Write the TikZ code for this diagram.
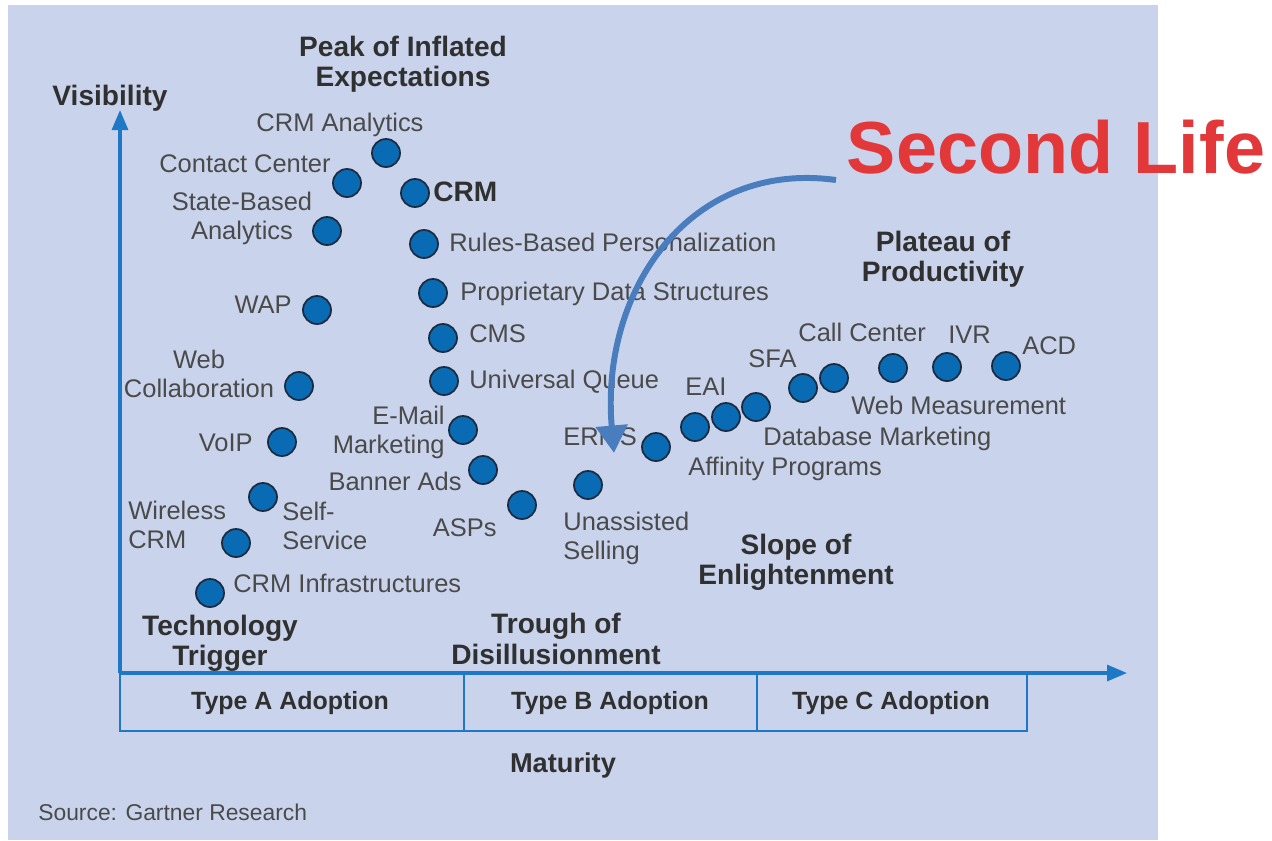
\documentclass[tikz,border=0pt]{standalone}
\usepackage{fontspec}
\setmainfont{Liberation Sans}
\usetikzlibrary{arrows.meta,positioning}
\definecolor{bgblue}{HTML}{C9D4EC}
\definecolor{axisblue}{HTML}{1F78C6}
\definecolor{dotblue}{HTML}{0A6BB5}
\definecolor{dotedge}{HTML}{1B2B3F}
\definecolor{lblgray}{HTML}{4A4A4A}
\definecolor{headgray}{HTML}{303030}
\definecolor{arcblue}{HTML}{4A7DBE}
\definecolor{slred}{HTML}{E2383A}
\tikzset{
  dot/.style={circle, fill=dotblue, draw=dotedge, line width=1pt, minimum size=0.56cm, inner sep=0pt},
  lbl/.style={font=\fontsize{14.5}{16.4}\selectfont, text=lblgray, inner sep=0pt, text height=10.5pt, text depth=0pt},
  phase/.style={font=\fontsize{16}{17.3}\selectfont\bfseries, text=headgray, inner sep=0pt, align=center},
  axis/.style={draw=axisblue, line width=1.8pt},
}
\begin{document}
\begin{tikzpicture}[x=0.02cm, y=-0.02cm]
    \useasboundingbox (0,0) rectangle (1272,840);
    \fill[white] (0,0) rectangle (1272,840);
    \fill[bgblue] (8,5) rectangle (1158,840); %panel

    % axes and adoption bands
    \coordinate (origin) at (120,673);
    \coordinate (yTip) at (120,110);
    \coordinate (xTip) at (1127,673);
    \draw[axis, -{Triangle[width=0.32cm,length=0.4cm]}] (origin) -- (yTip);
    \draw[axis, -{Triangle[width=0.32cm,length=0.4cm]}] (origin) -- (xTip);
    \draw[axis, line width=1.4pt] (origin) -- (120,731) -| (1027,673);
    \foreach \x in {464,757} {
        \draw[axis, line width=1.4pt] (\x,673) -- (\x,731);
    }
    \node[phase, font=\fontsize{14.2}{16}\selectfont\bfseries] (typeA) at (290,703) {Type A Adoption};
    \node[phase, font=\fontsize{14.2}{16}\selectfont\bfseries] (typeB) at (610,703) {Type B Adoption};
    \node[phase, font=\fontsize{14.2}{16}\selectfont\bfseries] (typeC) at (891,703) {Type C Adoption};
    \node[phase] (visibility) at (110,98) {Visibility};
    \node[phase, font=\fontsize{15.5}{17}\selectfont\bfseries] (maturity) at (563,765) {Maturity};

    % phases
    \node[phase] (peak) at (403,64) {Peak of Inflated\\Expectations};
    \node[phase] (plateau) at (943,259) {Plateau of\\Productivity};
    \node[phase] (slope) at (796,562) {Slope of\\Enlightenment};
    \node[phase] (trigger) at (220,643) {Technology\\Trigger};
    \node[phase] (trough) at (556,639) {Trough of\\Disillusionment};

    % technologies on the curve
    \foreach \n/\x/\y in {crmAnalytics/386/153, contactCenter/347/183, crm/415/193,
        stateBased/327/231, rulesBased/424/244, proprietary/433/293, wap/317/310,
        cms/443/338, universalQueue/444/381, webCollab/299/386, email/463/430,
        voip/282/442, bannerAds/483/470, selfService/263/497, asps/522/505,
        wireless/236/543, crmInfra/210/593, unassisted/588/485, erms/656/447,
        affinity/695/427, eai/726/417, database/756/407, sfa/803/388,
        webMeasure/834/378, callCenter/893/368, ivr/947/367, acd/1006/366} {
        \node[dot] (\n) at (\x,\y) {};
    }

    \node[lbl] (crmAnalyticsL) at (340,122) {CRM Analytics};
    \node[lbl, anchor=east] (contactCenterL) at (331,163) {Contact Center};
    \node[phase, anchor=west] (crmL) at (433,192) {CRM};
    \node[lbl, align=center] (stateBasedL) at (242,230) {State-Based\\Analytics};
    \node[lbl, anchor=west] (rulesBasedL) at (449,242) {Rules-Based Personalization};
    \node[lbl, anchor=west] (proprietaryL) at (460,291) {Proprietary Data Structures};
    \node[lbl, anchor=east] (wapL) at (292,304) {WAP};
    \node[lbl, anchor=west] (cmsL) at (469,333) {CMS};
    \node[lbl, align=center] (webCollabL) at (199,388) {Web\\Collaboration};
    \node[lbl, anchor=west] (universalQueueL) at (469,379) {Universal Queue};
    \node[lbl, align=right, anchor=east] (emailL) at (445,444) {E-Mail\\Marketing};
    \node[lbl, anchor=east] (voipL) at (253,442) {VoIP};
    \node[lbl, anchor=east] (bannerAdsL) at (462,481) {Banner Ads};
    \node[lbl, align=left, anchor=west] (wirelessL) at (128,539) {Wireless\\CRM};
    \node[lbl, align=left, anchor=west] (selfServiceL) at (282,540) {Self-\\Service};
    \node[lbl, anchor=east] (aspsL) at (497,527) {ASPs};
    \node[lbl, anchor=west] (crmInfraL) at (233,583) {CRM Infrastructures};
    \node[lbl, align=left, anchor=west] (unassistedL) at (563,550) {Unassisted\\Selling};
    \node[lbl, anchor=west] (ermsL) at (563,436) {ERMS};
    \node[lbl, anchor=west] (affinityL) at (688,466) {Affinity Programs};
    \node[lbl, anchor=west] (eaiL) at (685,386) {EAI};
    \node[lbl, anchor=west] (databaseL) at (763,436) {Database Marketing};
    \node[lbl, anchor=west] (sfaL) at (748,358) {SFA};
    \node[lbl, anchor=west] (webMeasureL) at (851,405) {Web Measurement};
    \node[lbl, anchor=west] (callCenterL) at (798,332) {Call Center};
    \node[lbl, anchor=west] (ivrL) at (948,334) {IVR};
    \node[lbl, anchor=west] (acdL) at (1022,345) {ACD};

    \node[lbl, font=\fontsize{13}{15}\selectfont, anchor=west] (source) at (38,811) {Source: Gartner Research};

    % Second Life
    \node[font=\fontsize{42}{42}\selectfont\bfseries, text=slred, inner sep=0pt] (secondLife) at (1056,147) {Second Life};
    \coordinate (slStart) at (836,180);
    \coordinate (slTip) at (614,453);
    \draw[arcblue, line width=3.4pt, -{Triangle[width=0.62cm,length=0.55cm]}] (slStart) .. controls (690,160) and (600,290) .. (slTip);
\end{tikzpicture}
\end{document}
